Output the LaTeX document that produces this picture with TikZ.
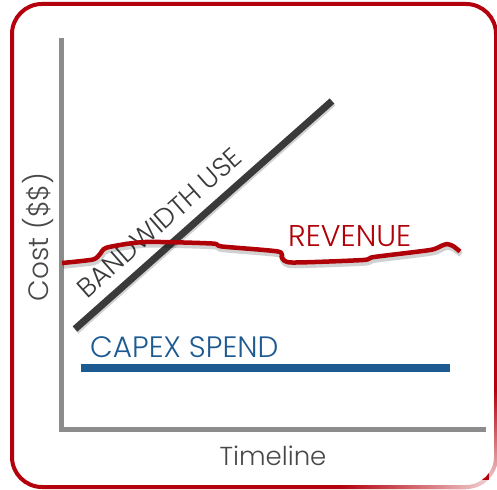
\documentclass[tikz,border=0pt]{standalone}
\usepackage{fontspec}
\usetikzlibrary{calc,fadings}
\setmainfont{Poppins}[UprightFont={* Light}]
\definecolor{framered}{RGB}{180,0,12}
\definecolor{axisgray}{RGB}{140,140,140}
\definecolor{bwgray}{RGB}{58,58,58}
\definecolor{revred}{RGB}{176,0,8}
\definecolor{capexblue}{RGB}{30,90,146}
\definecolor{labelgray}{RGB}{72,72,72}
\tikzfading[name=fadeleft, left color=transparent!100, right color=transparent!15]
\tikzfading[name=fadeup, top color=transparent!100, bottom color=transparent!15]
\tikzset{
  frame/.style={draw=framered,line width=4pt,rounded corners=30pt},
  axis/.style={draw=axisgray,line width=5pt},
  trend/.style={line width=#1,line join=round},
  shadowline/.style={draw=black,opacity=0.18,line width=5.5pt,line join=round},
  label/.style={inner sep=0pt,font=\fontsize{#1}{#1}\selectfont}
}
\begin{document}
\begin{tikzpicture}[x=1pt,y=-1pt]
		\useasboundingbox (0,0) rectangle (497,489);
		% frame
		\draw[frame] (12,4) rectangle (496,487);
		\fill[white,path fading=fadeleft] (340,480) rectangle (497,489);
		\fill[white,path fading=fadeup] (489,390) rectangle (497,489);
		% axes
		\coordinate (ytop) at (61,38);
		\coordinate (origin) at (61,432);
		\coordinate (xend) at (486,429);
		\draw[axis] (ytop) -- (origin);
		\draw[axis] (58.5,429) -- (xend);
		\node[label=26,text=labelgray,anchor=base] (xlabel) at (273,465) {Timeline};
		\node[label=28,text=labelgray,anchor=base,rotate=90] (ylabel) at (48,237) {Cost (\$\$)};
		% capex
		\draw[capexblue,line width=8pt] (80.5,368.3) -- (449.5,368.3);
		\node[label=29.5,text=capexblue,anchor=base west] (capex) at (90,357.7) {CAPEX SPEND};
		% bandwidth
		\coordinate (bwlow) at (75,329);
		\coordinate (bwhigh) at (332,101);
		\draw[shadowline] ($(bwlow)+(1.5,2.5)$) -- ($(bwhigh)+(1.5,2.5)$);
		\draw[bwgray,line width=7pt] (bwlow) -- (bwhigh);
		\node[label=27,text=bwgray,anchor=base,rotate=41.5] (bandwidth) at (165.8,230) {BANDWIDTH USE};
		% revenue
		\def\revpts{(62,263) (93,259.5) (100,254) (107,247.5) (145,242) (212,243.5) (222,246.5) (278,251.5) (282,258) (292,262.5) (363,260) (374,257) (430,250) (441,246) (447,244) (453,246) (460,251.5)}
		\begin{scope}[yshift=-3pt,xshift=1pt]
			\draw[shadowline] plot[smooth,tension=0.4] coordinates {\revpts};
		\end{scope}
		\draw[revred,trend=4.5pt] plot[smooth,tension=0.4] coordinates {\revpts};
		\node[label=30,text=revred,anchor=base west] (revenue) at (288,246.7) {REVENUE};
	\end{tikzpicture}
\end{document}
